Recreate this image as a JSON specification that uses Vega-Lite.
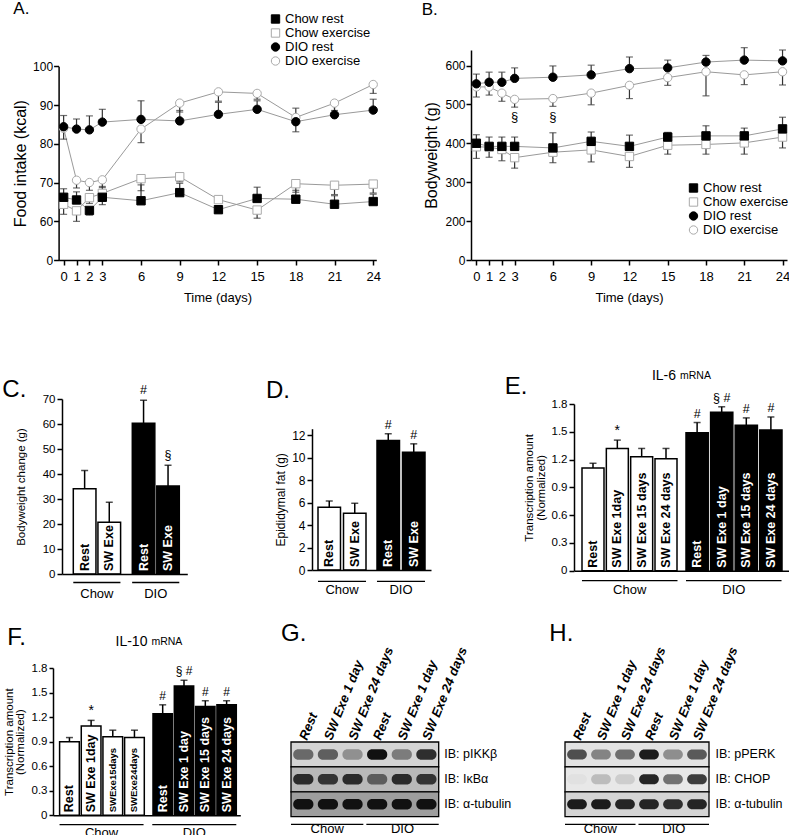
{
"$schema":"https://vega.github.io/schema/vega-lite/v6.json",
"padding":{"left":2,"top":0,"right":0,"bottom":0},"autosize":{"type":"pad"},"background":"white",
"columns":6,"align":"each","bounds":"flush","spacing":{"row":94,"column":0},
"resolve":{"scale":{"fill":"independent","stroke":"independent","shape":"independent","color":"independent","opacity":"independent"},"legend":{"fill":"independent","stroke":"independent","shape":"independent"}},
"concat":[
{"width":237.3,"height":210,"title":{"text":"A.","dx":-39.7,"dy":9.7,"fontSize":17},
"data":{"values":[
{"s":"DIO exercise","d":0,"v":84.0,"e":81.2},{"s":"DIO exercise","d":1,"v":70.6,"e":68.6},{"s":"DIO exercise","d":2,"v":70.0,"e":68.0},{"s":"DIO exercise","d":3,"v":70.7,"e":68.7},{"s":"DIO exercise","d":6,"v":83.8,"e":80.3},{"s":"DIO exercise","d":9,"v":90.5,"e":88.2},{"s":"DIO exercise","d":12,"v":93.4,"e":91.0},{"s":"DIO exercise","d":15,"v":93.0,"e":91.5},{"s":"DIO exercise","d":18,"v":86.8,"e":89.2},{"s":"DIO exercise","d":21,"v":90.5,"e":88.6},{"s":"DIO exercise","d":24,"v":95.3,"e":93.0},
{"s":"Chow exercise","d":0,"v":64.4,"e":61.8},{"s":"Chow exercise","d":1,"v":62.7,"e":59.9},{"s":"Chow exercise","d":2,"v":66.1,"e":64.6},{"s":"Chow exercise","d":3,"v":67.2,"e":69.0},{"s":"Chow exercise","d":6,"v":71.0,"e":67.9},{"s":"Chow exercise","d":9,"v":71.5,"e":70.2},{"s":"Chow exercise","d":12,"v":65.6,"e":64.9},{"s":"Chow exercise","d":15,"v":62.9,"e":60.8},{"s":"Chow exercise","d":18,"v":69.7,"e":67.5},{"s":"Chow exercise","d":21,"v":69.3,"e":66.9},{"s":"Chow exercise","d":24,"v":69.6,"e":67.3},
{"s":"Chow rest","d":0,"v":66.2,"e":68.4},{"s":"Chow rest","d":1,"v":65.5,"e":67.6},{"s":"Chow rest","d":2,"v":62.8,"e":61.6},{"s":"Chow rest","d":3,"v":66.2,"e":64.3},{"s":"Chow rest","d":6,"v":65.3,"e":69.4},{"s":"Chow rest","d":9,"v":67.4,"e":69.8},{"s":"Chow rest","d":12,"v":63.0,"e":62.2},{"s":"Chow rest","d":15,"v":65.9,"e":68.8},{"s":"Chow rest","d":18,"v":65.7,"e":68.0},{"s":"Chow rest","d":21,"v":64.4,"e":66.6},{"s":"Chow rest","d":24,"v":65.1,"e":67.0},
{"s":"DIO rest","d":0,"v":84.4,"e":87.3},{"s":"DIO rest","d":1,"v":83.8,"e":86.4},{"s":"DIO rest","d":2,"v":83.6,"e":87.2},{"s":"DIO rest","d":3,"v":85.6,"e":88.9},{"s":"DIO rest","d":6,"v":86.3,"e":91.1},{"s":"DIO rest","d":9,"v":85.9,"e":88.6},{"s":"DIO rest","d":12,"v":87.6,"e":90.7},{"s":"DIO rest","d":15,"v":88.9,"e":91.1},{"s":"DIO rest","d":18,"v":85.7,"e":83.1},{"s":"DIO rest","d":21,"v":87.5,"e":90.6},{"s":"DIO rest","d":24,"v":88.7,"e":91.5}
]},
"encoding":{"x":{"field":"d","type":"quantitative","scale":{"domain":[-0.39,24.24],"range":[5.6,323.3],"nice":false,"zero":false},"axis":{"values":[0,1,2,3,6,9,12,15,18,21,24],"tickCount":30,"title":"Time (days)","titleFontSize":13,"labelFontSize":13,"tickSize":5,"labelPadding":5,"titlePadding":8,"labelOverlap":false,"labelFlush":false}}},
"layer":[
{"mark":{"type":"line","color":"#9a9a9a","strokeWidth":1},"encoding":{"y":{"field":"v","type":"quantitative","scale":{"domain":[0,60,100],"range":[210,171.3,16.3],"nice":false,"zero":false},"axis":{"values":[0,60,70,80,90,100],"tickCount":30,"title":"Food intake (kcal)","titleFontSize":16,"labelFontSize":12,"tickSize":5,"labelPadding":1,"titlePadding":4,"offset":-5.6,"labelOverlap":false}},"detail":{"field":"s"}}},
{"mark":{"type":"rule","color":"#333","strokeWidth":1.2},"encoding":{"y":{"field":"v","type":"quantitative"},"y2":{"field":"e"}}},
{"mark":{"type":"tick","orient":"horizontal","size":7,"thickness":1.2,"color":"#333"},"encoding":{"y":{"field":"e","type":"quantitative"}}},
{"mark":{"type":"point","filled":true,"opacity":1,"size":70,"strokeWidth":1},"encoding":{"y":{"field":"v","type":"quantitative"},
"shape":{"field":"s","type":"nominal","scale":{"domain":["Chow rest","Chow exercise","DIO rest","DIO exercise"],"range":["square","square","circle","circle"]},"legend":{"title":null,"orient":"none","legendX":216,"legendY":-37.5,"labelFontSize":13,"symbolSize":70,"rowPadding":-4.5,"labelOffset":3,"symbolStrokeWidth":1}},
"fill":{"field":"s","type":"nominal","scale":{"domain":["Chow rest","Chow exercise","DIO rest","DIO exercise"],"range":["black","white","black","white"]},"legend":{"title":null,"orient":"none","legendX":216,"legendY":-37.5,"labelFontSize":13,"symbolSize":70,"rowPadding":-4.5,"labelOffset":3,"symbolStrokeWidth":1}},
"stroke":{"field":"s","type":"nominal","scale":{"domain":["Chow rest","Chow exercise","DIO rest","DIO exercise"],"range":["black","#aaaaaa","black","#aaaaaa"]},"legend":{"title":null,"orient":"none","legendX":216,"legendY":-37.5,"labelFontSize":13,"symbolSize":70,"rowPadding":-4.5,"labelOffset":3,"symbolStrokeWidth":1}}}},
{"data":{"values":[{}]},"mark":{"type":"rule","color":"#444","strokeWidth":1.2},"encoding":{"x":{"datum":0.75,"type":"quantitative"},"x2":{"datum":3.4},"y":{"datum":73.5,"type":"quantitative"}}},
{"data":{"values":[{}]},"mark":{"type":"text","text":"§","fontSize":13},"encoding":{"x":{"datum":2.1,"type":"quantitative"},"y":{"datum":76.6,"type":"quantitative"}}},
{"data":{"values":[{}]},"mark":{"type":"text","text":"=","angle":330,"fontSize":12},"encoding":{"x":{"datum":-0.39,"type":"quantitative"},"y":{"datum":33.6,"type":"quantitative"}}}
]},
{"width":21,"height":254.3,"data":{"values":[{}]},"mark":{"type":"point","opacity":0}},
{"width":158.3,"height":1,"data":{"values":[{}]},"mark":{"type":"point","opacity":0}},
{"width":93.4,"height":210,"title":{"text":"B.","dx":-49.3,"dy":-24.5,"fontSize":17},
"data":{"values":[
{"s":"DIO exercise","d":0,"v":545,"e":519},{"s":"DIO exercise","d":1,"v":545,"e":524},{"s":"DIO exercise","d":2,"v":529,"e":508},{"s":"DIO exercise","d":3,"v":513,"e":493},{"s":"DIO exercise","d":6,"v":515,"e":495},{"s":"DIO exercise","d":9,"v":529,"e":499},{"s":"DIO exercise","d":12,"v":549,"e":515},{"s":"DIO exercise","d":15,"v":569,"e":549},{"s":"DIO exercise","d":18,"v":584,"e":522},{"s":"DIO exercise","d":21,"v":576,"e":551},{"s":"DIO exercise","d":24,"v":584,"e":550},
{"s":"Chow exercise","d":0,"v":391,"e":361},{"s":"Chow exercise","d":1,"v":390,"e":364},{"s":"Chow exercise","d":2,"v":384,"e":355},{"s":"Chow exercise","d":3,"v":363,"e":336},{"s":"Chow exercise","d":6,"v":377,"e":350},{"s":"Chow exercise","d":9,"v":383,"e":352},{"s":"Chow exercise","d":12,"v":366,"e":338},{"s":"Chow exercise","d":15,"v":395,"e":372},{"s":"Chow exercise","d":18,"v":397,"e":372},{"s":"Chow exercise","d":21,"v":401,"e":372},{"s":"Chow exercise","d":24,"v":416,"e":388},
{"s":"Chow rest","d":0,"v":400,"e":422},{"s":"Chow rest","d":1,"v":392,"e":416},{"s":"Chow rest","d":2,"v":392,"e":416},{"s":"Chow rest","d":3,"v":392,"e":416},{"s":"Chow rest","d":6,"v":388,"e":427},{"s":"Chow rest","d":9,"v":405,"e":429},{"s":"Chow rest","d":12,"v":392,"e":421},{"s":"Chow rest","d":15,"v":416,"e":428},{"s":"Chow rest","d":18,"v":419,"e":445},{"s":"Chow rest","d":21,"v":419,"e":439},{"s":"Chow rest","d":24,"v":437,"e":467},
{"s":"DIO rest","d":0,"v":553,"e":578},{"s":"DIO rest","d":1,"v":557,"e":583},{"s":"DIO rest","d":2,"v":557,"e":583},{"s":"DIO rest","d":3,"v":567,"e":594},{"s":"DIO rest","d":6,"v":570,"e":599},{"s":"DIO rest","d":9,"v":576,"e":601},{"s":"DIO rest","d":12,"v":592,"e":622},{"s":"DIO rest","d":15,"v":594,"e":614},{"s":"DIO rest","d":18,"v":609,"e":626},{"s":"DIO rest","d":21,"v":614,"e":646},{"s":"DIO rest","d":24,"v":612,"e":640}
]},
"encoding":{"x":{"field":"d","type":"quantitative","scale":{"domain":[-0.42,24.35],"range":[0,316],"nice":false,"zero":false},"axis":{"values":[0,1,2,3,6,9,12,15,18,21,24],"tickCount":30,"title":"Time (days)","titleFontSize":13,"labelFontSize":13,"tickSize":5,"labelPadding":5,"titlePadding":8,"labelOverlap":false,"labelFlush":false}}},
"layer":[
{"mark":{"type":"line","color":"#9a9a9a","strokeWidth":1},"encoding":{"y":{"field":"v","type":"quantitative","scale":{"domain":[0,200,640],"range":[210,171,0],"nice":false,"zero":false},"axis":{"values":[0,200,300,400,500,600],"tickCount":30,"title":"Bodyweight (g)","titleFontSize":16,"labelFontSize":12,"tickSize":5,"labelPadding":1,"titlePadding":5,"labelOverlap":false}},"detail":{"field":"s"}}},
{"mark":{"type":"rule","color":"#333","strokeWidth":1.2},"encoding":{"y":{"field":"v","type":"quantitative"},"y2":{"field":"e"}}},
{"mark":{"type":"tick","orient":"horizontal","size":7,"thickness":1.2,"color":"#333"},"encoding":{"y":{"field":"e","type":"quantitative"}}},
{"mark":{"type":"point","filled":true,"opacity":1,"size":70,"strokeWidth":1},"encoding":{"y":{"field":"v","type":"quantitative"},
"shape":{"field":"s","type":"nominal","scale":{"domain":["Chow rest","Chow exercise","DIO rest","DIO exercise"],"range":["square","square","circle","circle"]},"legend":{"title":null,"orient":"none","legendX":216,"legendY":131.5,"labelFontSize":13,"symbolSize":70,"rowPadding":-4.5,"labelOffset":3,"symbolStrokeWidth":1}},
"fill":{"field":"s","type":"nominal","scale":{"domain":["Chow rest","Chow exercise","DIO rest","DIO exercise"],"range":["black","white","black","white"]},"legend":{"title":null,"orient":"none","legendX":216,"legendY":131.5,"labelFontSize":13,"symbolSize":70,"rowPadding":-4.5,"labelOffset":3,"symbolStrokeWidth":1}},
"stroke":{"field":"s","type":"nominal","scale":{"domain":["Chow rest","Chow exercise","DIO rest","DIO exercise"],"range":["black","#aaaaaa","black","#aaaaaa"]},"legend":{"title":null,"orient":"none","legendX":216,"legendY":131.5,"labelFontSize":13,"symbolSize":70,"rowPadding":-4.5,"labelOffset":3,"symbolStrokeWidth":1}}}},
{"data":{"values":[{"d":3},{"d":6}]},"mark":{"type":"text","text":"§","fontSize":13},"encoding":{"x":{"field":"d","type":"quantitative"},"y":{"datum":467,"type":"quantitative"}}},
{"data":{"values":[{}]},"mark":{"type":"text","text":"=","angle":330,"fontSize":12},"encoding":{"x":{"datum":-0.42,"type":"quantitative"},"y":{"datum":107,"type":"quantitative"}}}
]},
{"width":8.3,"height":1,"data":{"values":[{}]},"mark":{"type":"point","opacity":0}},
{"width":216,"height":1,"data":{"values":[{}]},"mark":{"type":"point","opacity":0}},

{"width":134.3,"height":175,"title":{"text":"C.","dx":-50.7,"dy":22,"fontSize":24},
"data":{"values":[
{"g":"Chow","t":"Rest","lab":"Rest","v":34.1,"e":41.4,"sig":""},
{"g":"Chow","t":"SW Exe","lab":"SW Exe","v":20.7,"e":28.7,"sig":""},
{"g":"DIO","t":"Rest","lab":"Rest","v":60.3,"e":69.5,"sig":"#"},
{"g":"DIO","t":"SW Exe","lab":"SW Exe","v":35.2,"e":43.5,"sig":"§"}]},
"resolve":{"scale":{"x":"independent"},"axis":{"x":"independent"}},
"layer":[
{"transform":[{"filter":"datum.g == 'Chow'"}],
"encoding":{"x":{"field":"t","type":"nominal","sort":["Rest","SW Exe"],"scale":{"type":"band","range":[20.3,67.6],"paddingInner":0.08,"paddingOuter":0},"axis":null}},
"layer":[
{"mark":{"type":"bar","fill":"white","stroke":"black","strokeWidth":1.5},"encoding":{"y":{"field":"v","type":"quantitative","scale":{"domain":[0,70],"nice":false},"axis":{"values":[0,10,20,30,40,50,60,70],"tickCount":30,"format":"~g","title":"Bodyweight change (g)","titleFontSize":11.5,"labelFontSize":11.5,"tickSize":5,"labelPadding":2,"titlePadding":16,"offset":-9,"labelOverlap":false}}}},
{"mark":{"type":"rule","strokeWidth":1.5,"color":"black"},"encoding":{"y":{"field":"v","type":"quantitative"},"y2":{"field":"e"}}},
{"mark":{"type":"tick","orient":"horizontal","size":7,"thickness":1.5,"color":"black"},"encoding":{"y":{"field":"e","type":"quantitative"}}},
{"mark":{"type":"text","angle":270,"align":"left","baseline":"middle","dx":3,"fontWeight":"bold","fontSize":12.5,"color":"black"},"encoding":{"y":{"datum":0,"type":"quantitative"},"text":{"field":"lab"}}}
]},
{"transform":[{"filter":"datum.g == 'DIO'"}],
"encoding":{"x":{"field":"t","type":"nominal","sort":["Rest","SW Exe"],"scale":{"type":"band","range":[79.3,126.3],"paddingInner":0.08,"paddingOuter":0},"axis":null}},
"layer":[
{"mark":{"type":"bar","fill":"black","stroke":"black","strokeWidth":1.5},"encoding":{"y":{"field":"v","type":"quantitative"}}},
{"mark":{"type":"rule","strokeWidth":1.5,"color":"black"},"encoding":{"y":{"field":"v","type":"quantitative"},"y2":{"field":"e"}}},
{"mark":{"type":"tick","orient":"horizontal","size":7,"thickness":1.5,"color":"black"},"encoding":{"y":{"field":"e","type":"quantitative"}}},
{"mark":{"type":"text","angle":270,"align":"left","baseline":"middle","dx":3,"fontWeight":"bold","fontSize":12.5,"color":"white"},"encoding":{"y":{"datum":0,"type":"quantitative"},"text":{"field":"lab"}}},
{"mark":{"type":"text","baseline":"bottom","dy":-3,"fontSize":12.5},"encoding":{"y":{"field":"e","type":"quantitative"},"text":{"field":"sig"}}}
]},
{"data":{"values":[{"g":"Chow"},{"g":"DIO"}]},"mark":{"type":"rect","color":"black"},"encoding":{"x":{"field":"g","type":"nominal","sort":["Chow","DIO"],"scale":{"type":"band","range":[9,134.3],"paddingInner":0.199,"paddingOuter":0.164,"align":0.585},"axis":{"title":null,"labelAngle":0,"ticks":false,"labelPadding":13,"labelFontSize":13}},"y":{"datum":-3.1,"type":"quantitative"},"y2":{"datum":-3.65}}}
]},
{"width":21,"height":1,"data":{"values":[{}]},"mark":{"type":"point","opacity":0}},
{"width":119,"height":171,"title":{"text":"D.","dx":-46,"dy":8,"fontSize":24},
"data":{"values":[
{"g":"Chow","t":"Rest","lab":"Rest","v":5.6,"e":6.15,"sig":""},
{"g":"Chow","t":"SW Exe","lab":"SW Exe","v":5.05,"e":5.95,"sig":""},
{"g":"DIO","t":"Rest","lab":"Rest","v":11.55,"e":12.15,"sig":"#"},
{"g":"DIO","t":"SW Exe","lab":"SW Exe","v":10.5,"e":11.25,"sig":"#"}]},
"resolve":{"scale":{"x":"independent"},"axis":{"x":"independent"}},
"layer":[
{"transform":[{"filter":"datum.g == 'Chow'"}],
"encoding":{"x":{"field":"t","type":"nominal","sort":["Rest","SW Exe"],"scale":{"type":"band","range":[6,54],"paddingInner":0.118,"paddingOuter":0},"axis":null}},
"layer":[
{"mark":{"type":"bar","fill":"white","stroke":"black","strokeWidth":1.5},"encoding":{"y":{"field":"v","type":"quantitative","scale":{"domain":[0,12.6],"range":[171,29.7],"nice":false},"axis":{"values":[0,2,4,6,8,10,12],"tickCount":30,"format":"~g","title":"Epididymal fat (g)","titleFontSize":12,"labelFontSize":12,"tickSize":5,"labelPadding":2,"titlePadding":4,"labelOverlap":false}}}},
{"mark":{"type":"rule","strokeWidth":1.5,"color":"black"},"encoding":{"y":{"field":"v","type":"quantitative"},"y2":{"field":"e"}}},
{"mark":{"type":"tick","orient":"horizontal","size":7,"thickness":1.5,"color":"black"},"encoding":{"y":{"field":"e","type":"quantitative"}}},
{"mark":{"type":"text","angle":270,"align":"left","baseline":"middle","dx":3,"fontWeight":"bold","fontSize":12.5,"color":"black"},"encoding":{"y":{"datum":0,"type":"quantitative"},"text":{"field":"lab"}}}
]},
{"transform":[{"filter":"datum.g == 'DIO'"}],
"encoding":{"x":{"field":"t","type":"nominal","sort":["Rest","SW Exe"],"scale":{"type":"band","range":[65,113],"paddingInner":0.118,"paddingOuter":0},"axis":null}},
"layer":[
{"mark":{"type":"bar","fill":"black","stroke":"black","strokeWidth":1.5},"encoding":{"y":{"field":"v","type":"quantitative"}}},
{"mark":{"type":"rule","strokeWidth":1.5,"color":"black"},"encoding":{"y":{"field":"v","type":"quantitative"},"y2":{"field":"e"}}},
{"mark":{"type":"tick","orient":"horizontal","size":7,"thickness":1.5,"color":"black"},"encoding":{"y":{"field":"e","type":"quantitative"}}},
{"mark":{"type":"text","angle":270,"align":"left","baseline":"middle","dx":3,"fontWeight":"bold","fontSize":12.5,"color":"white"},"encoding":{"y":{"datum":0,"type":"quantitative"},"text":{"field":"lab"}}},
{"mark":{"type":"text","baseline":"bottom","dy":-2,"fontSize":12.5},"encoding":{"y":{"field":"e","type":"quantitative"},"text":{"field":"sig"}}}
]},
{"data":{"values":[{"g":"Chow"},{"g":"DIO"}]},"mark":{"type":"rect","color":"black"},"encoding":{"x":{"field":"g","type":"nominal","sort":["Chow","DIO"],"scale":{"type":"band","range":[0,119],"paddingInner":0.186,"paddingOuter":0.1017},"axis":{"title":null,"labelAngle":0,"ticks":false,"labelPadding":13.5,"labelFontSize":13}},"y":{"datum":-0.95,"type":"quantitative"},"y2":{"datum":-1.07}}}
]},
{"width":93.4,"height":1,"data":{"values":[{}]},"mark":{"type":"point","opacity":0}},
{"width":8.3,"height":1,"data":{"values":[{}]},"mark":{"type":"point","opacity":0}},
{"width":216,"height":171.7,"title":{"text":"E.","dx":-69.3,"dy":34,"fontSize":24},
"data":{"values":[
{"g":"Chow","t":"Rest","lab":"Rest","v":1.11,"e":1.16,"sig":""},
{"g":"Chow","t":"1","lab":"SW Exe 1day","v":1.32,"e":1.41,"sig":"*"},
{"g":"Chow","t":"15","lab":"SW Exe 15 days","v":1.23,"e":1.32,"sig":""},
{"g":"Chow","t":"24","lab":"SW Exe 24 days","v":1.21,"e":1.32,"sig":""},
{"g":"DIO","t":"Rest","lab":"Rest","v":1.49,"e":1.6,"sig":"#"},
{"g":"DIO","t":"1","lab":"SW Exe 1 day","v":1.71,"e":1.77,"sig":"§ #"},
{"g":"DIO","t":"15","lab":"SW Exe 15 days","v":1.57,"e":1.65,"sig":"#"},
{"g":"DIO","t":"24","lab":"SW Exe 24 days","v":1.52,"e":1.66,"sig":"#"}]},
"resolve":{"scale":{"x":"independent"},"axis":{"x":"independent"}},
"layer":[
{"transform":[{"filter":"datum.g == 'Chow'"}],
"encoding":{"x":{"field":"t","type":"nominal","sort":["Rest","1","15","24"],"scale":{"type":"band","range":[8,103],"paddingInner":0.096,"paddingOuter":0},"axis":null}},
"layer":[
{"mark":{"type":"bar","fill":"white","stroke":"black","strokeWidth":1.5},"encoding":{"y":{"field":"v","type":"quantitative","scale":{"domain":[0,1.8],"range":[171.7,5],"nice":false},"axis":{"values":[0,0.3,0.6,0.9,1.2,1.5,1.8],"tickCount":30,"format":"~g","title":["Transcription amount","(Normalized)"],"titleFontSize":11.5,"titleLineHeight":12,"labelFontSize":11.5,"tickSize":5,"labelPadding":2,"titlePadding":5,"labelOverlap":false}}}},
{"mark":{"type":"rule","strokeWidth":1.5,"color":"black"},"encoding":{"y":{"field":"v","type":"quantitative"},"y2":{"field":"e"}}},
{"mark":{"type":"tick","orient":"horizontal","size":7,"thickness":1.5,"color":"black"},"encoding":{"y":{"field":"e","type":"quantitative"}}},
{"mark":{"type":"text","angle":270,"align":"left","baseline":"middle","dx":3,"fontWeight":"bold","fontSize":12.5,"color":"black"},"encoding":{"y":{"datum":0,"type":"quantitative"},"text":{"field":"lab"}}},
{"mark":{"type":"text","baseline":"bottom","dy":-2,"fontSize":14},"encoding":{"y":{"field":"e","type":"quantitative"},"text":{"field":"sig"}}},
{"data":{"values":[{"g":"Chow","t":"24"}]},"mark":{"type":"text","text":"IL-6","align":"right","dx":10,"fontSize":14},"encoding":{"y":{"datum":2.1,"type":"quantitative"}}},
{"data":{"values":[{"g":"Chow","t":"24"}]},"mark":{"type":"text","text":"mRNA","align":"left","dx":14,"fontSize":10.5},"encoding":{"y":{"datum":2.1,"type":"quantitative"}}}
]},
{"transform":[{"filter":"datum.g == 'DIO'"}],
"encoding":{"x":{"field":"t","type":"nominal","sort":["Rest","1","15","24"],"scale":{"type":"band","range":[112,208],"paddingInner":0.096,"paddingOuter":0},"axis":null}},
"layer":[
{"mark":{"type":"bar","fill":"black","stroke":"black","strokeWidth":1.5},"encoding":{"y":{"field":"v","type":"quantitative"}}},
{"mark":{"type":"rule","strokeWidth":1.5,"color":"black"},"encoding":{"y":{"field":"v","type":"quantitative"},"y2":{"field":"e"}}},
{"mark":{"type":"tick","orient":"horizontal","size":7,"thickness":1.5,"color":"black"},"encoding":{"y":{"field":"e","type":"quantitative"}}},
{"mark":{"type":"text","angle":270,"align":"left","baseline":"middle","dx":3,"fontWeight":"bold","fontSize":12.5,"color":"white"},"encoding":{"y":{"datum":0,"type":"quantitative"},"text":{"field":"lab"}}},
{"mark":{"type":"text","baseline":"bottom","dy":-2,"fontSize":12.5},"encoding":{"y":{"field":"e","type":"quantitative"},"text":{"field":"sig"}}}
]},
{"data":{"values":[{"g":"Chow"},{"g":"DIO"}]},"mark":{"type":"rect","color":"black"},"encoding":{"x":{"field":"g","type":"nominal","sort":["Chow","DIO"],"scale":{"type":"band","range":[0,216],"paddingInner":0.0817,"paddingOuter":0.079,"align":0.485},"axis":{"title":null,"labelAngle":0,"ticks":false,"labelPadding":13,"labelFontSize":13}},"y":{"datum":-0.1,"type":"quantitative"},"y2":{"datum":-0.115}}}
]},

{"width":187.3,"height":147.3,"title":{"text":"F.","dx":-45.7,"dy":19,"fontSize":24},
"data":{"values":[
{"g":"Chow","t":"Rest","lab":"Rest","v":0.9,"e":0.95,"sig":""},
{"g":"Chow","t":"1","lab":"SW Exe 1day","v":1.09,"e":1.16,"sig":"*"},
{"g":"Chow","t":"15","lab":"SWExe15days","v":0.96,"e":1.04,"sig":""},
{"g":"Chow","t":"24","lab":"SWExe24days","v":0.95,"e":1.04,"sig":""},
{"g":"DIO","t":"Rest","lab":"Rest","v":1.24,"e":1.35,"sig":"#"},
{"g":"DIO","t":"1","lab":"SW Exe 1 day","v":1.58,"e":1.65,"sig":"§ #"},
{"g":"DIO","t":"15","lab":"SW Exe 15 days","v":1.33,"e":1.4,"sig":"#"},
{"g":"DIO","t":"24","lab":"SW Exe 24 days","v":1.35,"e":1.4,"sig":"#"}]},
"resolve":{"scale":{"x":"independent"},"axis":{"x":"independent"}},
"layer":[
{"transform":[{"filter":"datum.g == 'Chow'"}],
"encoding":{"x":{"field":"t","type":"nominal","sort":["Rest","1","15","24"],"scale":{"type":"band","range":[6.6,91.3],"paddingInner":0.091,"paddingOuter":0},"axis":null}},
"layer":[
{"mark":{"type":"bar","fill":"white","stroke":"black","strokeWidth":1.5},"encoding":{"y":{"field":"v","type":"quantitative","scale":{"domain":[0,1.8],"nice":false},"axis":{"values":[0,0.3,0.6,0.9,1.2,1.5,1.8],"tickCount":30,"format":"~g","title":["Transcription amount","(Normalized)"],"titleFontSize":11.5,"titleLineHeight":11,"labelFontSize":11.5,"tickSize":4,"labelPadding":2,"titlePadding":6,"labelOverlap":false}}}},
{"mark":{"type":"rule","strokeWidth":1.5,"color":"black"},"encoding":{"y":{"field":"v","type":"quantitative"},"y2":{"field":"e"}}},
{"mark":{"type":"tick","orient":"horizontal","size":7,"thickness":1.5,"color":"black"},"encoding":{"y":{"field":"e","type":"quantitative"}}},
{"mark":{"type":"text","angle":270,"align":"left","baseline":"middle","dx":3,"fontWeight":"bold","fontSize":{"expr":"indexof(datum.lab,'SWExe')==0 ? 9.5 : 12.5"},"color":"black"},"encoding":{"y":{"datum":0,"type":"quantitative"},"text":{"field":"lab"}}},
{"mark":{"type":"text","baseline":"bottom","dy":-2,"fontSize":14},"encoding":{"y":{"field":"e","type":"quantitative"},"text":{"field":"sig"}}},
{"data":{"values":[{"g":"Chow","t":"24"}]},"mark":{"type":"text","text":"IL-10","align":"right","dx":13,"fontSize":14},"encoding":{"y":{"datum":2.12,"type":"quantitative"}}},
{"data":{"values":[{"g":"Chow","t":"24"}]},"mark":{"type":"text","text":"mRNA","align":"left","dx":17,"fontSize":10.5},"encoding":{"y":{"datum":2.12,"type":"quantitative"}}}
]},
{"transform":[{"filter":"datum.g == 'DIO'"}],
"encoding":{"x":{"field":"t","type":"nominal","sort":["Rest","1","15","24"],"scale":{"type":"band","range":[100,183.3],"paddingInner":0.091,"paddingOuter":0},"axis":null}},
"layer":[
{"mark":{"type":"bar","fill":"black","stroke":"black","strokeWidth":1.5},"encoding":{"y":{"field":"v","type":"quantitative"}}},
{"mark":{"type":"rule","strokeWidth":1.5,"color":"black"},"encoding":{"y":{"field":"v","type":"quantitative"},"y2":{"field":"e"}}},
{"mark":{"type":"tick","orient":"horizontal","size":7,"thickness":1.5,"color":"black"},"encoding":{"y":{"field":"e","type":"quantitative"}}},
{"mark":{"type":"text","angle":270,"align":"left","baseline":"middle","dx":3,"fontWeight":"bold","fontSize":12.5,"color":"white"},"encoding":{"y":{"datum":0,"type":"quantitative"},"text":{"field":"lab"}}},
{"mark":{"type":"text","baseline":"bottom","dy":-2,"fontSize":12},"encoding":{"y":{"field":"e","type":"quantitative"},"text":{"field":"sig"}}}
]},
{"data":{"values":[{"g":"Chow"},{"g":"DIO"}]},"mark":{"type":"rect","color":"black"},"encoding":{"x":{"field":"g","type":"nominal","sort":["Chow","DIO"],"scale":{"type":"band","range":[0,187.3],"paddingInner":0.094,"paddingOuter":0.057,"align":0.62},"axis":{"title":null,"labelAngle":0,"ticks":false,"labelPadding":11.5,"labelFontSize":13}},"y":{"datum":-0.106,"type":"quantitative"},"y2":{"datum":-0.122}}}
]},
{"width":21,"height":148.7,"title":{"text":"G.","dx":-10,"dy":5.5,"fontSize":24},
"resolve":{"scale":{"x":"independent","y":"independent"},"axis":{"x":"independent","y":"independent"}},
"layer":[
{"data":{"values":[{"row":"IB: pIKKβ","bg":0.15},{"row":"IB: IκBα","bg":0.25},{"row":"IB: α-tubulin","bg":0.35}]},"mark":{"type":"rect","stroke":"black","strokeWidth":1.3},"encoding":{"x":{"datum":0,"type":"quantitative","scale":{"domain":[0,1],"range":[0,147.7]},"axis":null},"x2":{"datum":1},"y":{"field":"row","type":"nominal","sort":null,"scale":{"range":[74,148.7],"paddingInner":0,"paddingOuter":0},"axis":{"orient":"right","offset":126.7,"title":null,"domain":false,"ticks":false,"labelPadding":5,"labelFontSize":12.5}},"fill":{"field":"bg","type":"quantitative","scale":{"domain":[0,1],"range":["#ffffff","#000000"]},"legend":null}}},
{"data":{"values":[
{"lane":"Chow|Rest","row":"IB: pIKKβ","d":0.55},{"lane":"Chow|SW Exe 1 day","row":"IB: pIKKβ","d":0.6},{"lane":"Chow|SW Exe 24 days","row":"IB: pIKKβ","d":0.35},{"lane":"DIO|Rest","row":"IB: pIKKβ","d":1},{"lane":"DIO|SW Exe 1 day","row":"IB: pIKKβ","d":0.45},{"lane":"DIO|SW Exe 24 days","row":"IB: pIKKβ","d":0.85},
{"lane":"Chow|Rest","row":"IB: IκBα","d":0.85},{"lane":"Chow|SW Exe 1 day","row":"IB: IκBα","d":0.8},{"lane":"Chow|SW Exe 24 days","row":"IB: IκBα","d":0.85},{"lane":"DIO|Rest","row":"IB: IκBα","d":0.55},{"lane":"DIO|SW Exe 1 day","row":"IB: IκBα","d":0.85},{"lane":"DIO|SW Exe 24 days","row":"IB: IκBα","d":0.8},
{"lane":"Chow|Rest","row":"IB: α-tubulin","d":1},{"lane":"Chow|SW Exe 1 day","row":"IB: α-tubulin","d":1},{"lane":"Chow|SW Exe 24 days","row":"IB: α-tubulin","d":1},{"lane":"DIO|Rest","row":"IB: α-tubulin","d":1},{"lane":"DIO|SW Exe 1 day","row":"IB: α-tubulin","d":1},{"lane":"DIO|SW Exe 24 days","row":"IB: α-tubulin","d":1}]},
"mark":{"type":"rect","width":{"band":0.82},"height":{"band":0.42},"cornerRadius":5,"fill":"#111"},
"encoding":{"x":{"field":"lane","type":"nominal","sort":null,"scale":{"range":[0,147.7],"paddingInner":0,"paddingOuter":0},"axis":{"orient":"top","offset":-74,"title":null,"domain":false,"ticks":false,"labelAngle":-68,"labelAlign":"left","labelBaseline":"middle","labelPadding":3,"labelFontWeight":"bold","labelFontStyle":"italic","labelFontSize":13,"labelExpr":"split(datum.value,'|')[1]"}},
"y":{"field":"row","type":"nominal","sort":null,"scale":{"range":[74,148.7],"paddingInner":0,"paddingOuter":0},"axis":null},
"opacity":{"field":"d","type":"quantitative","scale":{"domain":[0,1],"range":[0,1]},"legend":null}}},
{"data":{"values":[{"grp":"Chow"},{"grp":"DIO"}]},"mark":{"type":"rect","fill":"black"},"encoding":{"x":{"field":"grp","type":"nominal","scale":{"range":[0,147.7],"paddingInner":0.04,"paddingOuter":0},"axis":{"orient":"bottom","title":null,"domain":false,"ticks":false,"labelAngle":0,"labelPadding":6,"labelFontSize":13}},"y":{"datum":-7,"type":"quantitative","scale":{"domain":[0,10],"range":[148.7,138.7]},"axis":null},"y2":{"datum":-8.3}}}
]},
{"width":158.3,"height":1,"data":{"values":[{}]},"mark":{"type":"point","opacity":0}},
{"width":93.4,"height":1,"data":{"values":[{}]},"mark":{"type":"point","opacity":0}},
{"width":8.3,"height":148.7,"title":{"text":"H.","dx":-15.7,"dy":5.5,"fontSize":24},
"resolve":{"scale":{"x":"independent","y":"independent"},"axis":{"x":"independent","y":"independent"}},
"layer":[
{"data":{"values":[{"row":"IB: pPERK","bg":0.1},{"row":"IB: CHOP","bg":0.08},{"row":"IB: α-tubulin","bg":0.15}]},"mark":{"type":"rect","stroke":"black","strokeWidth":1.3},"encoding":{"x":{"datum":0,"type":"quantitative","scale":{"domain":[0,1],"range":[0,144]},"axis":null},"x2":{"datum":1},"y":{"field":"row","type":"nominal","sort":null,"scale":{"range":[74,148.7],"paddingInner":0,"paddingOuter":0},"axis":{"orient":"right","offset":135.7,"title":null,"domain":false,"ticks":false,"labelPadding":6,"labelFontSize":12.5}},"fill":{"field":"bg","type":"quantitative","scale":{"domain":[0,1],"range":["#ffffff","#000000"]},"legend":null}}},
{"data":{"values":[
{"lane":"Chow|Rest","row":"IB: pPERK","d":0.7},{"lane":"Chow|SW Exe 1 day","row":"IB: pPERK","d":0.45},{"lane":"Chow|SW Exe 24 days","row":"IB: pPERK","d":0.55},{"lane":"DIO|Rest","row":"IB: pPERK","d":0.95},{"lane":"DIO|SW Exe 1 day","row":"IB: pPERK","d":0.4},{"lane":"DIO|SW Exe 24 days","row":"IB: pPERK","d":0.65},
{"lane":"Chow|Rest","row":"IB: CHOP","d":0.03},{"lane":"Chow|SW Exe 1 day","row":"IB: CHOP","d":0.2},{"lane":"Chow|SW Exe 24 days","row":"IB: CHOP","d":0.12},{"lane":"DIO|Rest","row":"IB: CHOP","d":0.9},{"lane":"DIO|SW Exe 1 day","row":"IB: CHOP","d":0.55},{"lane":"DIO|SW Exe 24 days","row":"IB: CHOP","d":0.8},
{"lane":"Chow|Rest","row":"IB: α-tubulin","d":0.95},{"lane":"Chow|SW Exe 1 day","row":"IB: α-tubulin","d":0.95},{"lane":"Chow|SW Exe 24 days","row":"IB: α-tubulin","d":0.9},{"lane":"DIO|Rest","row":"IB: α-tubulin","d":0.9},{"lane":"DIO|SW Exe 1 day","row":"IB: α-tubulin","d":0.85},{"lane":"DIO|SW Exe 24 days","row":"IB: α-tubulin","d":0.9}]},
"mark":{"type":"rect","width":{"band":0.82},"height":{"band":0.4},"cornerRadius":5,"fill":"#111"},
"encoding":{"x":{"field":"lane","type":"nominal","sort":null,"scale":{"range":[0,144],"paddingInner":0,"paddingOuter":0},"axis":{"orient":"top","offset":-74,"title":null,"domain":false,"ticks":false,"labelAngle":-68,"labelAlign":"left","labelBaseline":"middle","labelPadding":3,"labelFontWeight":"bold","labelFontStyle":"italic","labelFontSize":13,"labelExpr":"split(datum.value,'|')[1]"}},
"y":{"field":"row","type":"nominal","sort":null,"scale":{"range":[74,148.7],"paddingInner":0,"paddingOuter":0},"axis":null},
"opacity":{"field":"d","type":"quantitative","scale":{"domain":[0,1],"range":[0,1]},"legend":null}}},
{"data":{"values":[{"grp":"Chow"},{"grp":"DIO"}]},"mark":{"type":"rect","fill":"black"},"encoding":{"x":{"field":"grp","type":"nominal","scale":{"range":[0,144],"paddingInner":0.04,"paddingOuter":0},"axis":{"orient":"bottom","title":null,"domain":false,"ticks":false,"labelAngle":0,"labelPadding":6,"labelFontSize":13}},"y":{"datum":-7,"type":"quantitative","scale":{"domain":[0,10],"range":[148.7,138.7]},"axis":null},"y2":{"datum":-8.3}}}
]},
{"width":216,"height":1,"data":{"values":[{}]},"mark":{"type":"point","opacity":0}}
],
"config":{"font":"Liberation Sans","view":{"stroke":null},
"axis":{"domainColor":"black","tickColor":"black","labelColor":"black","titleColor":"black","grid":false,"domainWidth":1.5,"tickWidth":1.5,"titleFontWeight":"normal","labelFont":"Liberation Sans","titleFont":"Liberation Sans","labelOverlap":false},
"axisY":{"labelOverlap":false},
"title":{"fontWeight":"normal","anchor":"start","frame":"group","fontSize":20,"color":"black","offset":0,"font":"Liberation Sans"},
"legend":{"labelFont":"Liberation Sans","labelColor":"black"},
"text":{"font":"Liberation Sans","color":"black"}}
}
